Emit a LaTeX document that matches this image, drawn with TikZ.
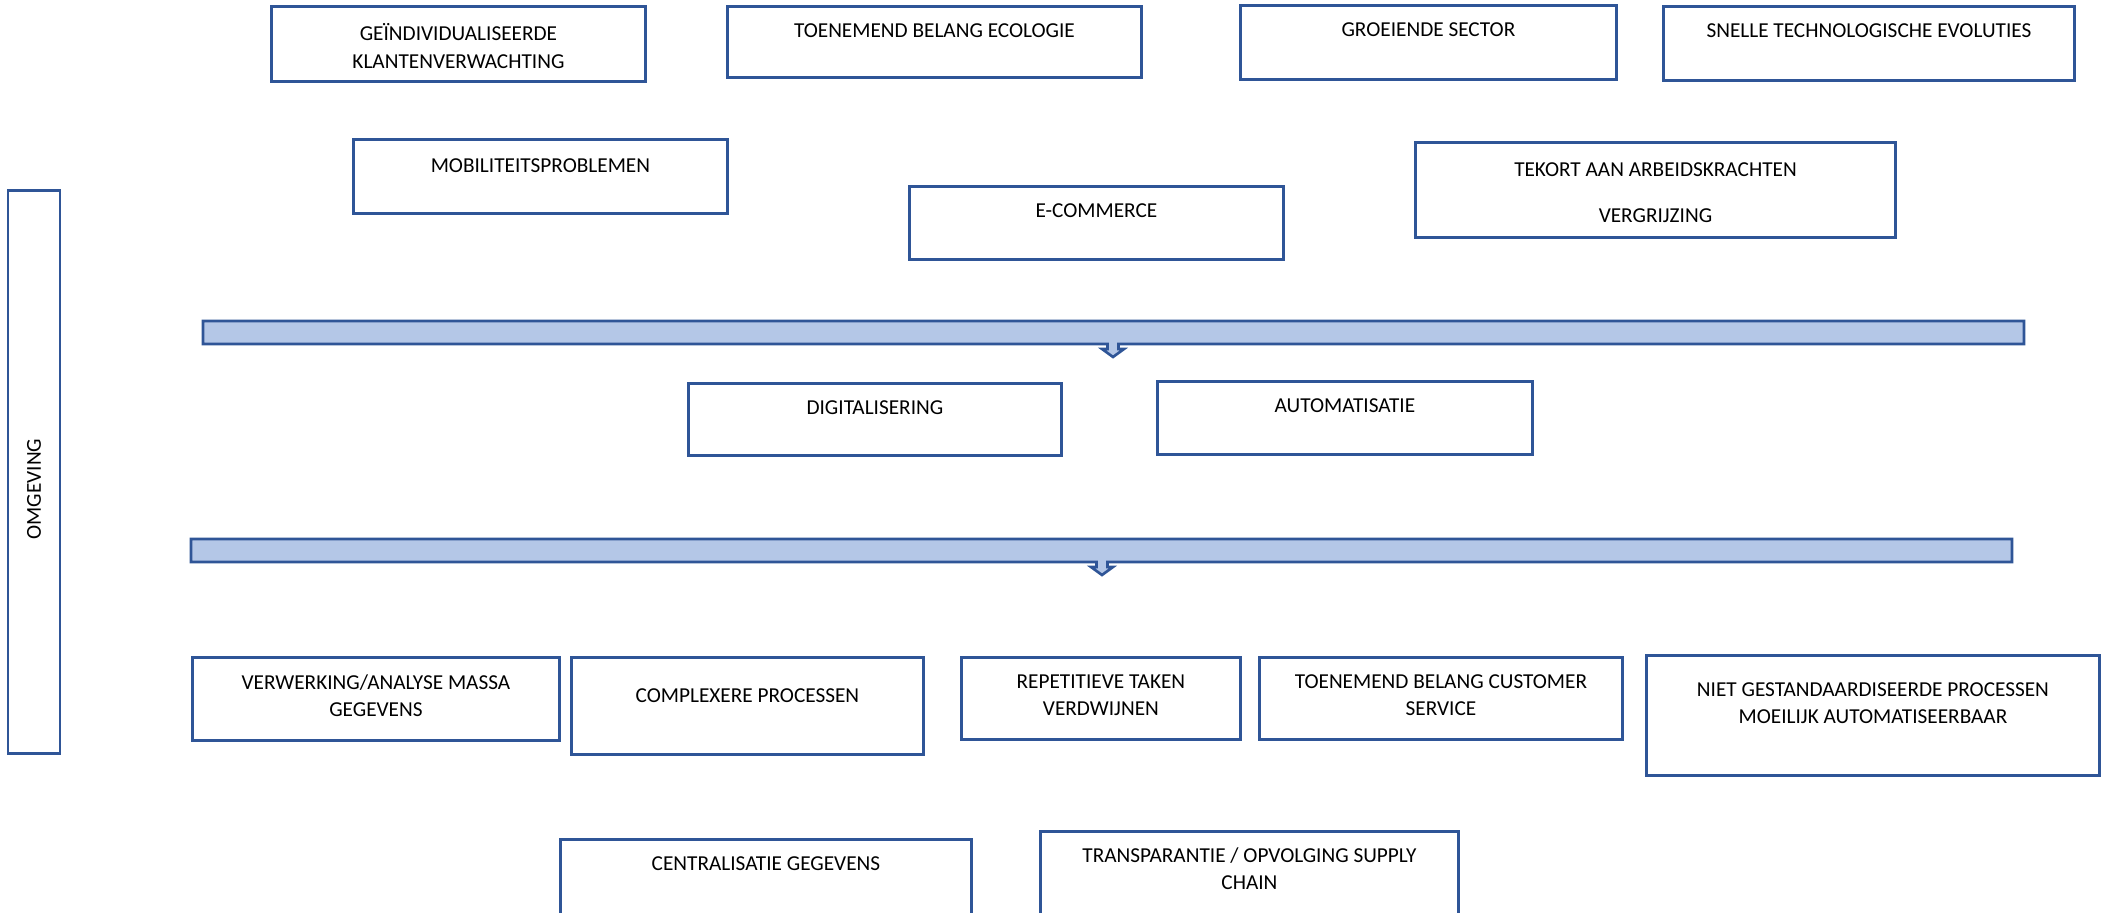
\documentclass[tikz,border=0pt]{standalone}
\usepackage{fontspec}
\setmainfont{Carlito}
\usepackage{xcolor}
\definecolor{BoxBlue}{HTML}{2F5597}
\definecolor{BarFill}{HTML}{B4C7E7}
\usetikzlibrary{positioning}
\tikzset{
  box/.style={
    draw=BoxBlue,
    line width=0.75pt,
    fill=white,
    anchor=north west,
    inner sep=0pt
  },
  txt/.style={
    anchor=north,
    align=center,
    inner sep=0pt,
    yshift=-0.18cm
  },
  bar/.style={draw=BoxBlue, line width=0.75pt, fill=BarFill}
}

\begin{document}
\begin{tikzpicture}[x=0.01cm, y=-0.01cm, font=\fontsize{6.05}{7.8}\selectfont]
  \useasboundingbox[fill=white] (0,0) rectangle (2107,913);
  \clip (0,0) rectangle (2107,913);

  % zijbalk
  \node[box, anchor=center, minimum width=0.52cm, minimum height=5.63cm, label={[yshift=-0.17cm, rotate=90, anchor=center]center:OMGEVING}] (omgeving) at (34,472) {};

  % trends bovenaan
  \node[box, minimum width=3.74cm, minimum height=0.75cm, label={[txt]north:GEÏNDIVIDUALISEERDE\\KLANTENVERWACHTING}] (klant) at (270,5) {};
  \node[box, minimum width=4.14cm, minimum height=0.71cm, label={[txt]north:TOENEMEND BELANG ECOLOGIE}] (ecologie) at (726,5) {};
  \node[box, minimum width=3.76cm, minimum height=0.74cm, label={[txt]north:GROEIENDE SECTOR}] (sector) at (1239,4) {};
  \node[box, minimum width=4.11cm, minimum height=0.74cm, label={[txt]north:SNELLE TECHNOLOGISCHE EVOLUTIES}] (techno) at (1662,5) {};
  \node[box, minimum width=3.74cm, minimum height=0.74cm, label={[txt, yshift=-0.02cm]north:MOBILITEITSPROBLEMEN}] (mobiliteit) at (352,138) {};
  \node[box, minimum width=3.74cm, minimum height=0.73cm, label={[txt]north:E-COMMERCE}] (ecommerce) at (908,185) {};
  \node[box, minimum width=4.80cm, minimum height=0.95cm, label={[txt, yshift=-0.03cm]north:TEKORT AAN ARBEIDSKRACHTEN\\[0.185cm]VERGRIJZING}] (tekort) at (1414,141) {};

  \draw[bar] (203,321) -- (2024,321) -- (2024,344) -- (1118.5,344) -- (1118.5,349) -- (1124,349)
    -- (1113,357) -- (1102,349) -- (1107.5,349) -- (1107.5,344) -- (203,344) -- cycle;

  % gevolg
  \node[box, minimum width=3.73cm, minimum height=0.72cm, label={[txt]north:DIGITALISERING}] (digi) at (687,382) {};
  \node[box, minimum width=3.75cm, minimum height=0.73cm, label={[txt]north:AUTOMATISATIE}] (auto) at (1156,380) {};

  \draw[bar] (191,539) -- (2012,539) -- (2012,562) -- (1107.5,562) -- (1107.5,567) -- (1113,567)
    -- (1102,575) -- (1091,567) -- (1096.5,567) -- (1096.5,562) -- (191,562) -- cycle;

  % impact
  \node[box, minimum width=3.67cm, minimum height=0.83cm, label={[txt]north:VERWERKING/ANALYSE MASSA\\GEGEVENS}] (massa) at (191,656) {};
  \node[box, minimum width=3.52cm, minimum height=0.97cm, label={[txt, yshift=-0.14cm]north:COMPLEXERE PROCESSEN}] (complex) at (570,656) {};
  \node[box, minimum width=2.79cm, minimum height=0.82cm, label={[txt]north:REPETITIEVE TAKEN\\VERDWIJNEN}] (repetitief) at (960,656) {};
  \node[box, minimum width=3.63cm, minimum height=0.82cm, label={[txt]north:TOENEMEND BELANG CUSTOMER\\SERVICE}] (service) at (1258,656) {};
  \node[box, minimum width=4.53cm, minimum height=1.20cm, label={[txt, yshift=-0.10cm]north:NIET GESTANDAARDISEERDE PROCESSEN\\MOEILIJK AUTOMATISEERBAAR}] (nietstd) at (1645,654) {};
  \node[box, minimum width=4.11cm, minimum height=1.00cm, label={[txt]north:CENTRALISATIE GEGEVENS}] (centraal) at (559,838) {};
  \node[box, minimum width=4.18cm, minimum height=1.00cm, label={[txt, yshift=0.01cm]north:TRANSPARANTIE / OPVOLGING SUPPLY\\CHAIN}] (supply) at (1039,830) {};
\end{tikzpicture}
\end{document}
